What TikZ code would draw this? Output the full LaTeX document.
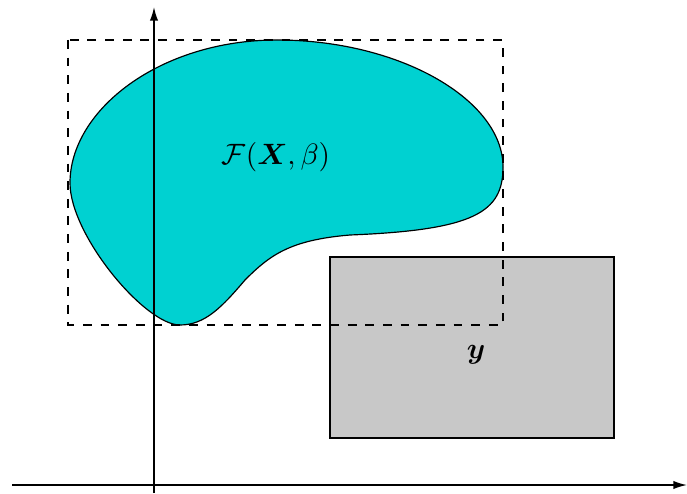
\documentclass[tikz,border=0pt]{standalone}
\usepackage{amsmath,amssymb}
\usepackage{xcolor}
\usetikzlibrary{arrows.meta, calc}

\definecolor{regioncyan}{RGB}{0,209,209}
\definecolor{targetgray}{RGB}{200,200,200}

\begin{document}
\begin{tikzpicture}[
  x=0.34pt, y=-0.34pt,
  axis/.style={-{Latex[length=4.6pt, width=2.8pt]}, line width=0.55pt},
  region/.style={draw=black, line width=0.4pt, fill=regioncyan},
  target/.style={draw=black, line width=0.4pt, fill=targetgray},
  bbox/.style={dashed, line width=0.45pt},
  label/.style={font=\normalsize, inner sep=1pt},
]
\useasboundingbox (0,0) rectangle (687,493);

% ================= image of the model =================
\draw[region] (70,183)
  .. controls (70,110) and (160,40) .. (277,40)
  .. controls (400,40) and (503,100) .. (503,167)
  .. controls (503,212) and (475,230) .. (350,235)
  .. controls (290,240) and (270,255) .. (245,280)
  .. controls (222,307) and (205,325) .. (180,325)
  .. controls (145,325) and (70,235) .. cycle;

% ================= axes =================
\coordinate (xstart) at (12,485);
\coordinate (xend) at (687,485);
\coordinate (ystart) at (154,493);
\coordinate (yend) at (154,7);
\draw[axis] (xstart) -- (xend);
\draw[axis] (ystart) -- (yend);

% ================= target set =================
\draw[target] (330,257) rectangle (614,438);

% ================= bounding box of the region =================
\draw[bbox] (68,40) rectangle (503,325);

% ================= labels =================
\node[label] (flabel) at (276,157) {$\mathcal{F}(\boldsymbol{X},\beta)$};
\node[label] (ylabel) at (476,355) {$\boldsymbol{y}$};

\end{tikzpicture}
\end{document}
